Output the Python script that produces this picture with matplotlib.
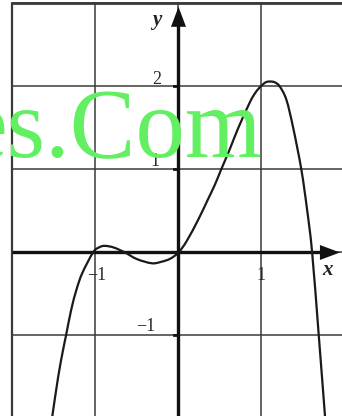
import matplotlib
matplotlib.use("Agg")
import matplotlib.pyplot as plt
from matplotlib.path import Path
from matplotlib.patches import PathPatch

# Curve points (x, y in grid units)
curve_x = [-1.52, -1.45, -1.39, -1.355, -1.295, -1.23, -1.16, -1.03, -0.96, -0.89,
           -0.78, -0.645, -0.5, -0.32, -0.2, -0.1, 0.0, 0.1, 0.24, 0.35,
           0.44, 0.51, 0.62, 0.72, 0.86, 0.93, 0.99, 1.05, 1.1, 1.16,
           1.22, 1.30, 1.38, 1.48, 1.55, 1.61, 1.69, 1.765]
curve_y = [-1.97, -1.5, -1.17, -1.0, -0.70, -0.45, -0.25, 0.0, 0.06, 0.08,
           0.06, 0.0, -0.08, -0.13, -0.11, -0.075, 0.0, 0.14, 0.40, 0.63,
           0.82, 0.99, 1.25, 1.50, 1.81, 1.93, 2.0, 2.05, 2.06, 2.05,
           2.0, 1.84, 1.51, 1.0, 0.51, 0.0, -1.0, -1.97]

grid_x = [-2, -1, 0, 1]
grid_y = [3, 2, 1, 0, -1]
xtick_labels = {-1: "\u22121", 1: "1"}
ytick_labels = {2: "2", 1: "1", -1: "\u22121"}
watermark = "es.Com"

fig = plt.figure(figsize=(3.42, 4.16), dpi=100)
ax = fig.add_axes([0, 0, 1, 1])
ax.set_xlim(-2.1506, 1.9699)
ax.set_ylim(-1.9699, 3.042)
ax.axis("off")

gcol = "#3a3a3a"
for gx in grid_x:
    ax.plot([gx, gx], [-3, 3], color=gcol, lw=1.1, zorder=2)
for gy in grid_y:
    ax.plot([-2, 3], [gy, gy], color=gcol, lw=1.1, zorder=2)
# frame (top and left)
ax.plot([-2, 3], [3, 3], color=gcol, lw=2.0, zorder=2, solid_capstyle="butt")
ax.plot([-2, -2], [-3, 3], color=gcol, lw=1.6, zorder=2, solid_capstyle="butt")

# watermark
fig.text(262 / 342, 1 - 157 / 416, watermark, ha="right", va="baseline",
         fontsize=71, family="Liberation Serif", color="#62f062", zorder=1)

# axes with arrows
ax.plot([-2, 1.80], [0, 0], color="#111111", lw=2.4, zorder=4, solid_capstyle="butt")
ax.plot([0, 0], [-2.2, 2.80], color="#111111", lw=2.4, zorder=4, solid_capstyle="butt")
ap = dict(arrowstyle="-|>,head_length=0.8,head_width=0.3", mutation_scale=18,
          color="#111111", lw=0, shrinkA=0, shrinkB=0)
ax.annotate("", xy=(1.945, 0), xytext=(1.70, 0), arrowprops=ap, zorder=5)
ax.annotate("", xy=(0, 2.96), xytext=(0, 2.70), arrowprops=ap, zorder=5)

# small ticks on y axis
for t in [2, 1, -1]:
    ax.plot([-0.06, 0], [t, t], color="#111111", lw=2.0, zorder=4)

# smooth curve through the read points (Catmull-Rom rendered as Bezier path)
pts = list(zip(curve_x, curve_y))
verts = [pts[0]]
codes = [Path.MOVETO]
n = len(pts)
for i in range(n - 1):
    p0 = pts[i - 1] if i > 0 else pts[i]
    p1 = pts[i]
    p2 = pts[i + 1]
    p3 = pts[i + 2] if i + 2 < n else pts[i + 1]
    c1 = (p1[0] + (p2[0] - p0[0]) / 6, p1[1] + (p2[1] - p0[1]) / 6)
    c2 = (p2[0] - (p3[0] - p1[0]) / 6, p2[1] - (p3[1] - p1[1]) / 6)
    verts += [c1, c2, p2]
    codes += [Path.CURVE4] * 3
ax.add_patch(PathPatch(Path(verts, codes), facecolor="none", edgecolor="#1a1a1a",
                       lw=1.6, zorder=6, capstyle="round", joinstyle="round"))

tfont = dict(family="Liberation Serif", color="#2a2a2a", fontsize=13, zorder=7)
ax.text(-0.98, -0.28, xtick_labels[-1], ha="center", va="center", **tfont)
ax.text(0.99, -0.28, xtick_labels[1], ha="center", va="center", **tfont)
ax.text(-0.26, 2.08, ytick_labels[2], ha="center", va="center", **tfont)
ax.text(-0.28, 1.10, ytick_labels[1], ha="center", va="center", **tfont)
ax.text(-0.40, -0.89, ytick_labels[-1], ha="center", va="center", **tfont)
ax.text(-0.259, 2.80, "y", ha="center", va="center", family="Liberation Serif",
        style="italic", fontweight="bold", fontsize=15, color="#222222")
ax.text(1.80, -0.21, "x", ha="center", va="center", family="Liberation Serif",
        style="italic", fontweight="bold", fontsize=15, color="#222222")

fig.savefig("out.png", dpi=100)
